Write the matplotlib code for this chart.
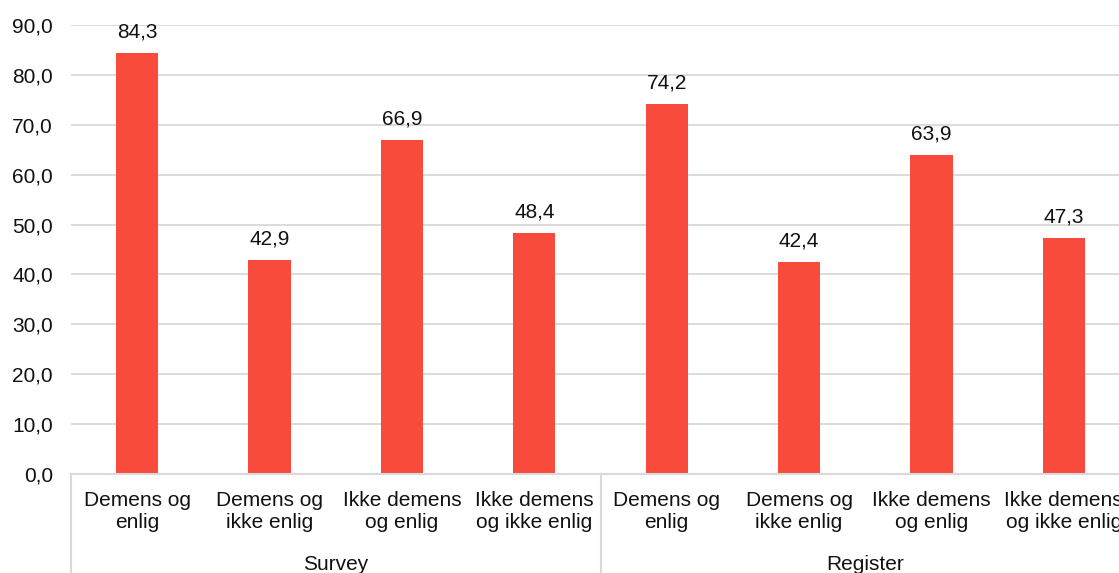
import matplotlib
matplotlib.use("Agg")
import matplotlib.pyplot as plt
from matplotlib.lines import Line2D
from matplotlib.ticker import FuncFormatter

# Share of respondents, by data source and group
groups = ["Survey", "Register"]
categories = [
    ("Demens og", "enlig"),
    ("Demens og", "ikke enlig"),
    ("Ikke demens", "og enlig"),
    ("Ikke demens", "og ikke enlig"),
]
survey_values = [84.3, 42.9, 66.9, 48.4]
register_values = [74.2, 42.4, 63.9, 47.3]

values = survey_values + register_values
labels = categories * len(groups)

plt.rcParams["font.family"] = ["Liberation Sans", "DejaVu Sans"]
FS = 15
BAR = "#F94B3C"
GRID = "#D9D9D9"
TXT = "#111111"

W, H = 1119, 573
fig = plt.figure(figsize=(W / 100, H / 100), dpi=100)
left, right, bottom, top = 71, 1130, 474, 25
ax = fig.add_axes([left / W, (H - bottom) / H, (right - left) / W, (bottom - top) / H])

x = list(range(len(values)))
ax.bar(x, values, width=0.32, color=BAR, zorder=3)
ax.set_xlim(-0.5, len(values) - 0.5)
ax.set_ylim(0, 90)
ax.set_yticks(range(0, 91, 10))
ax.yaxis.set_major_formatter(FuncFormatter(lambda v, p: f"{v:.1f}".replace(".", ",")))
ax.tick_params(axis="y", length=0, pad=13, labelsize=FS, labelcolor=TXT)
ax.set_xticks([])
ax.grid(axis="y", color=GRID, linewidth=1.3, zorder=0)
for s in ("top", "right", "left"):
    ax.spines[s].set_visible(False)
ax.spines["bottom"].set_color(GRID)
ax.spines["bottom"].set_linewidth(1.5)
ax.spines["bottom"].set_zorder(4)

# Value labels above bars
for xi, v in zip(x, values):
    ax.annotate(f"{v:.1f}".replace(".", ","), xy=(xi, v), xytext=(0, 21),
                textcoords="offset pixels", ha="center", va="center",
                fontsize=FS, color=TXT)

# Category labels (two lines each)
for xi, (l1, l2) in zip(x, labels):
    ax.annotate(l1, xy=(xi, 0), xycoords=("data", "axes fraction"),
                xytext=(0, -26), textcoords="offset pixels",
                ha="center", va="center", fontsize=FS, color=TXT)
    ax.annotate(l2, xy=(xi, 0), xycoords=("data", "axes fraction"),
                xytext=(0, -49), textcoords="offset pixels",
                ha="center", va="center", fontsize=FS, color=TXT)

# Group labels and separators
n = len(categories)
for gi, g in enumerate(groups):
    center = gi * n + (n - 1) / 2
    ax.annotate(g, xy=(center, 0), xycoords=("data", "axes fraction"),
                xytext=(0, -90), textcoords="offset pixels",
                ha="center", va="center", fontsize=FS, color=TXT)
    sep = gi * n - 0.5
    ax.add_line(Line2D([sep, sep], [0, -0.25], transform=ax.get_xaxis_transform(),
                       color=GRID, linewidth=1.5, clip_on=False, zorder=4))

fig.savefig("out.png", dpi=100)
